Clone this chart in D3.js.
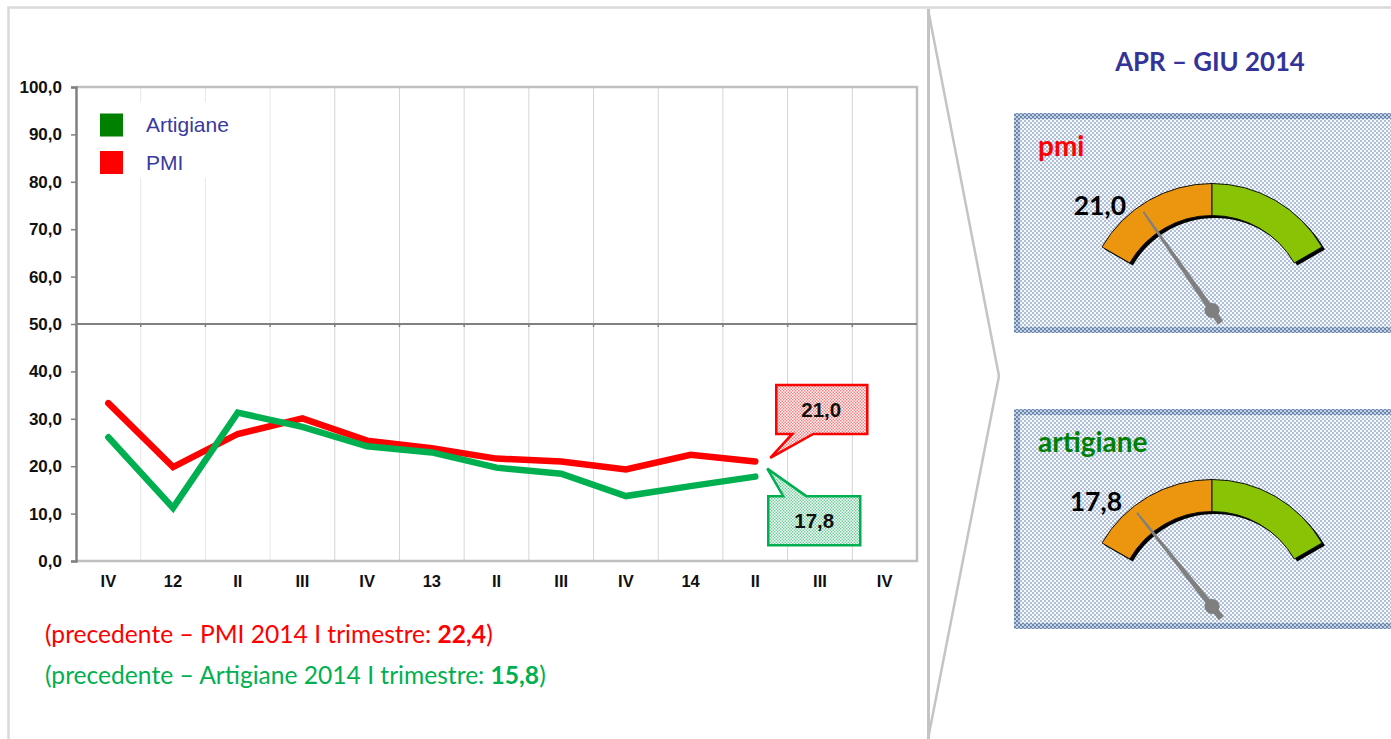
<!DOCTYPE html>
<html>
<head>
<meta charset="utf-8">
<title>Fiducia PMI e artigiane</title>
<script src="https://cdn.jsdelivr.net/npm/d3@7/dist/d3.min.js"></script>
<style>
  html, body { margin: 0; padding: 0; background: #fff; overflow: hidden; }
  svg { display: block; }
  .tick-label { font-family: "Liberation Sans", Arial, sans-serif; font-weight: bold; font-size: 17px; fill: #111; }
  .cal { font-family: Lato, "Open Sans", sans-serif; }
</style>
</head>
<body>
<div id="chart"></div>
<script>
// Data
const quarters = ['IV', '12', 'II', 'III', 'IV', '13', 'II', 'III', 'IV', '14', 'II', 'III', 'IV'];
const pmiValues = [33.3, 19.8, 26.8, 30.1, 25.4, 23.8, 21.6, 21.0, 19.3, 22.4, 21.0];
const artigianeValues = [26.1, 11.2, 31.3, 28.3, 24.2, 22.9, 19.7, 18.4, 13.7, 15.8, 17.8];
const yTicks = [0, 10, 20, 30, 40, 50, 60, 70, 80, 90, 100];
const legendLabels = ['Artigiane', 'PMI'];
const gaugeLabels = ['pmi', 'artigiane'];
const gaugeValues = [21.0, 17.8];

const width = 1391, height = 739;
const RED = '#ff0000', GREEN = '#00b050', DARK_GREEN = '#008000', NAVY = '#3a3a9c';
const fmt = v => v.toFixed(1).replace('.', ',');

const svg = d3.select('#chart').append('svg').attr('width', width).attr('height', height);
const defs = svg.append('defs');

// Small checker pattern used by the callouts and gauge panels
function addPattern(id, size, bg, fg, dot) {
    const p = defs.append('pattern').attr('id', id)
        .attr('width', size).attr('height', size)
        .attr('patternUnits', 'userSpaceOnUse');
    p.append('rect').attr('width', size).attr('height', size).attr('fill', bg);
    p.append('rect').attr('width', dot).attr('height', dot).attr('fill', fg);
    p.append('rect').attr('x', size / 2).attr('y', size / 2).attr('width', dot).attr('height', dot).attr('fill', fg);
}
addPattern('panelFill', 4, '#f6f8fb', '#aebfd8', 2);
addPattern('panelBorder', 4, '#c5d0e0', '#6a88b0', 2);
addPattern('redFill', 3, '#ffffff', '#f47c7c', 1.5);
addPattern('greenFill', 3, '#ffffff', '#6fcf9a', 1.5);
addPattern('orangeFill', 3, '#e8900a', '#f09a14', 1.5);
addPattern('limeFill', 3, '#82bf00', '#8fc808', 1.5);

// Outer frame and chevron divider
const frame = svg.append('g').attr('fill', 'none').attr('stroke', '#d9d9d9');
frame.append('path').attr('d', 'M8.5,739V7.5H1391').attr('stroke-width', 2.5);
frame.append('path').attr('d', 'M928.5,9V739').attr('stroke', '#c4c4c4').attr('stroke-width', 3);
frame.append('path').attr('d', 'M928,9L999,376L928,739').attr('stroke', '#c4c4c4').attr('stroke-width', 2.5);

// Plot scales
const plot = { left: 76, right: 917, top: 87, bottom: 561 };
const x = d3.scaleBand().domain(d3.range(quarters.length)).range([plot.left, plot.right]);
const y = d3.scaleLinear().domain([0, 100]).range([plot.bottom, plot.top]);
const px = i => x(i) + x.bandwidth() / 2;

// Vertical gridlines at the band edges
svg.append('g').selectAll('line')
    .data(d3.range(1, quarters.length))
    .join('line')
    .attr('x1', d => x(d)).attr('x2', d => x(d))
    .attr('y1', plot.top).attr('y2', plot.bottom)
    .attr('stroke', (d, i) => i < 3 ? '#e6e6e6' : '#d4d4d4')
    .attr('stroke-width', 1);

// Plot frame
svg.append('path')
    .attr('d', `M${plot.left},${plot.top}H${plot.right}V${plot.bottom}H${plot.left}`)
    .attr('fill', 'none').attr('stroke', '#bfbfbf').attr('stroke-width', 2.5);

// Y axis
const yAxis = svg.append('g').attr('transform', `translate(${plot.left},0)`)
    .call(d3.axisLeft(y).tickValues(yTicks).tickSize(5).tickPadding(9).tickFormat(fmt));
yAxis.select('.domain').attr('stroke', '#808080').attr('stroke-width', 2.5);
yAxis.selectAll('.tick line').attr('stroke', '#808080').attr('stroke-width', 1.5);
yAxis.selectAll('text').attr('class', 'tick-label');

// 50 line crosses the plot, with small ticks along it
svg.append('line')
    .attr('x1', plot.left).attr('x2', plot.right)
    .attr('y1', y(50)).attr('y2', y(50))
    .attr('stroke', '#808080').attr('stroke-width', 2);
svg.append('g').selectAll('line')
    .data(d3.range(1, quarters.length))
    .join('line')
    .attr('x1', d => x(d)).attr('x2', d => x(d))
    .attr('y1', y(50)).attr('y2', y(50) + 3)
    .attr('stroke', '#808080').attr('stroke-width', 1.5);

// Category labels
svg.append('g').selectAll('text')
    .data(quarters)
    .join('text')
    .attr('class', 'tick-label')
    .attr('x', (d, i) => px(i))
    .attr('y', 587)
    .attr('text-anchor', 'middle')
    .style('font-size', '16.5px')
    .text(d => d);

// Series
const line = d3.line().x((d, i) => px(i)).y(d => y(d));
[[pmiValues, RED], [artigianeValues, GREEN]].forEach(([values, color]) => {
    svg.append('path')
        .attr('d', line(values))
        .attr('fill', 'none')
        .attr('stroke', color)
        .attr('stroke-width', 6.5)
        .attr('stroke-linecap', 'round')
        .attr('stroke-linejoin', 'miter');
});

// Legend: white box hides the gridlines behind it
svg.append('rect').attr('x', 90).attr('y', 102).attr('width', 145).attr('height', 76).attr('fill', '#fff');
legendLabels.forEach((label, i) => {
    const ly = 125 + i * 37.5;
    svg.append('rect')
        .attr('x', 100).attr('y', ly - 11.5)
        .attr('width', 23).attr('height', 23)
        .attr('fill', i === 0 ? DARK_GREEN : RED);
    svg.append('text')
        .attr('x', 146).attr('y', ly + 7)
        .attr('font-family', '"Liberation Sans", Arial, sans-serif')
        .attr('font-size', 21)
        .attr('fill', NAVY)
        .text(label);
});

// Callouts, placed relative to the last point of each series
const lastX = px(pmiValues.length - 1);
const redY = y(pmiValues[pmiValues.length - 1]);
const greenY = y(artigianeValues[artigianeValues.length - 1]);

svg.append('path')
    .attr('d', `M${lastX + 15},${redY - 3.5}L${lastX + 37},${redY - 27.5}H${lastX + 21}V${redY - 76.5}H${lastX + 112}V${redY - 27.5}H${lastX + 58}Z`)
    .attr('fill', 'url(#redFill)').attr('stroke', RED).attr('stroke-width', 2.5);
svg.append('text').attr('class', 'tick-label')
    .attr('x', lastX + 66).attr('y', redY - 44.5)
    .attr('text-anchor', 'middle').style('font-size', '20.5px')
    .text(fmt(pmiValues[pmiValues.length - 1]));

svg.append('path')
    .attr('d', `M${lastX + 12},${greenY - 8}L${lastX + 51},${greenY + 19.5}H${lastX + 105}V${greenY + 68.5}H${lastX + 13}V${greenY + 19.5}H${lastX + 28}Z`)
    .attr('fill', 'url(#greenFill)').attr('stroke', GREEN).attr('stroke-width', 2.5);
svg.append('text').attr('class', 'tick-label')
    .attr('x', lastX + 59).attr('y', greenY + 51.5)
    .attr('text-anchor', 'middle').style('font-size', '20.5px')
    .text(fmt(artigianeValues[artigianeValues.length - 1]));

// Notes under the plot
const notes = [
    { color: RED, text: '(precedente \u2013 PMI 2014 I trimestre: ', value: fmt(pmiValues[9]), ty: 643 },
    { color: GREEN, text: '(precedente \u2013 Artigiane 2014 I trimestre: ', value: fmt(artigianeValues[9]), ty: 684 }
];
notes.forEach(n => {
    const t = svg.append('text').attr('class', 'cal')
        .attr('x', 45).attr('y', n.ty)
        .attr('font-size', 24.6).attr('fill', n.color);
    t.append('tspan').text(n.text);
    t.append('tspan').attr('font-weight', 'bold').text(n.value);
    t.append('tspan').text(')');
});

// Right side
svg.append('text').attr('class', 'cal')
    .attr('x', 1210).attr('y', 71)
    .attr('text-anchor', 'middle')
    .attr('font-size', 25.8).attr('font-weight', 'bold').attr('fill', '#33339a')
    .text('APR \u2013 GIU 2014');

// Gauge scale: 0..100 sweeps from -60 to +60 degrees
const gaugeAngle = d3.scaleLinear().domain([0, 100]).range([-60, 60]);
const rad = d => d * Math.PI / 180;
const outerR = 127, innerR = 95;

gaugeLabels.forEach((label, i) => {
    const top = 113 + i * 296;
    const cx = 1212, cy = top + 197.5;
    const g = svg.append('g');

    g.append('rect').attr('x', 1014).attr('y', top).attr('width', 400).attr('height', 220).attr('fill', 'url(#panelBorder)');
    g.append('rect').attr('x', 1020).attr('y', top + 6).attr('width', 400).attr('height', 208).attr('fill', 'url(#panelFill)');

    g.append('text').attr('class', 'cal')
        .attr('x', 1038).attr('y', top + 43)
        .attr('font-size', 28).attr('font-weight', 'bold')
        .attr('fill', i === 0 ? RED : DARK_GREEN)
        .text(label);

    const arc = d3.arc().innerRadius(innerR).outerRadius(outerR);
    const gg = g.append('g').attr('transform', `translate(${cx},${cy})`);
    // black copy pushed down-right gives the heavy rim on the inner edge and right end
    gg.append('path')
        .attr('d', arc({ startAngle: rad(-60), endAngle: rad(60) }))
        .attr('transform', 'translate(3,2.5)')
        .attr('fill', '#000');
    gg.append('path')
        .attr('d', arc({ startAngle: rad(-60), endAngle: 0 }))
        .attr('fill', 'url(#orangeFill)').attr('stroke', '#111').attr('stroke-width', 1);
    gg.append('path')
        .attr('d', arc({ startAngle: 0, endAngle: rad(60) }))
        .attr('fill', 'url(#limeFill)').attr('stroke', '#111').attr('stroke-width', 1);

    // Needle
    const a = rad(gaugeAngle(gaugeValues[i]));
    const sx = Math.sin(a), cs = -Math.cos(a);
    const tipR = 120, tailR = 14;
    const nx = -cs * 2.2, ny = sx * 2.2;
    gg.append('path')
        .attr('d', `M${sx * tipR},${cs * tipR}L${-sx * tailR + nx},${-cs * tailR + ny}L${-sx * tailR - nx},${-cs * tailR - ny}Z`)
        .attr('stroke', '#808080').attr('stroke-width', 2).attr('fill', '#808080');
    gg.append('circle').attr('r', 7.5).attr('fill', '#7f7f7f');

    g.append('text').attr('class', 'cal')
        .attr('x', i === 0 ? 1126 : 1122).attr('y', top + 102)
        .attr('text-anchor', 'end')
        .attr('font-size', 26.5).attr('font-weight', 'bold').attr('fill', '#000')
        .text(fmt(gaugeValues[i]));
});
</script>
</body>
</html>
